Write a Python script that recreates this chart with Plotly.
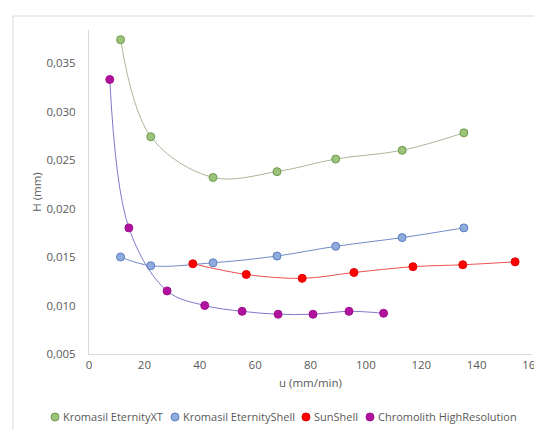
import plotly.graph_objects as go

# Kromasil EternityXT
xt_u = [11.4, 22.3, 44.8, 67.9, 89.1, 113.1, 135.4]
xt_h = [0.0374, 0.0274, 0.0232, 0.0238, 0.0251, 0.0260, 0.0278]
# Kromasil EternityShell
es_u = [11.4, 22.3, 44.8, 67.9, 89.1, 113.1, 135.4]
es_h = [0.0150, 0.0141, 0.0144, 0.0151, 0.0161, 0.0170, 0.0180]
# SunShell
ss_u = [37.5, 56.8, 77.0, 95.7, 117.0, 135.0, 153.9]
ss_h = [0.0143, 0.0132, 0.0128, 0.0134, 0.0140, 0.0142, 0.0145]
# Chromolith HighResolution
ch_u = [7.5, 14.4, 28.2, 41.8, 55.3, 68.3, 80.9, 93.9, 106.4]
ch_h = [0.0333, 0.0180, 0.0115, 0.0100, 0.0094, 0.0091, 0.0091, 0.0094, 0.0092]

names = ["Kromasil EternityXT", "Kromasil EternityShell", "SunShell", "Chromolith HighResolution"]
y_ticks = [0.005, 0.010, 0.015, 0.020, 0.025, 0.030, 0.035]
x_ticks = [0, 20, 40, 60, 80, 100, 120, 140, 160]

series = [
    (xt_u, xt_h, "#9BC37A", "#6E9A4E", "#A7B99A"),
    (es_u, es_h, "#8FAADC", "#5B7DBE", "#6F8CC8"),
    (ss_u, ss_h, "#FF0000", "#E00000", "#F05050"),
    (ch_u, ch_h, "#B0129E", "#A0108F", "#7F78C8"),
]

fig = go.Figure()
for name, (u, h, fill, edge, line) in zip(names, series):
    fig.add_trace(go.Scatter(
        x=u, y=h, name=name, mode="lines+markers", showlegend=False,
        line=dict(color=line, width=1, shape="spline", smoothing=1.0),
        marker=dict(size=8, color=fill, line=dict(color=edge, width=1)),
    ))

# legend laid out in a single row below the chart (marker + label)
legend_marker_x = [-0.0767, 0.1941, 0.4898, 0.6343]
legend_y = -0.1944
shapes = [dict(type="rect", xref="paper", yref="paper", x0=-0.1716, x1=1.0316, y0=-0.35, y1=1.0432,
               line=dict(color="#D9D9D9", width=1), fillcolor="rgba(0,0,0,0)", layer="below")]
annotations = []
for name, mx, (u, h, fill, edge, line) in zip(names, legend_marker_x, series):
    shapes.append(dict(type="circle", xref="paper", yref="paper", xsizemode="pixel", ysizemode="pixel",
                       xanchor=mx, yanchor=legend_y, x0=-4, x1=4, y0=-4, y1=4,
                       fillcolor=fill, line=dict(color=edge, width=1)))
    annotations.append(dict(text=name, xref="paper", yref="paper", x=mx + 0.0135, y=legend_y,
                            xanchor="left", yanchor="middle", showarrow=False,
                            font=dict(family="Open Sans, sans-serif", size=11, color="#595959")))

font = dict(family="Open Sans, sans-serif", size=12, color="#595959")
fig.update_layout(
    width=542, height=430,
    margin=dict(l=81, r=18, t=22, b=84, autoexpand=False),
    paper_bgcolor="white", plot_bgcolor="white",
    separators=",.",
    font=font,
    showlegend=False,
    xaxis=dict(range=[0, 160], tickvals=x_ticks, showgrid=False, zeroline=False, automargin=False,
               showline=True, linecolor="#D9D9D9", linewidth=1, ticks="",
               tickfont=dict(size=11.5),
               title=dict(text="u (mm/min)", font=dict(size=11.5, color="#595959"), standoff=8)),
    yaxis=dict(range=[0.005, 0.0384], tickvals=y_ticks, tickformat=".3f", showgrid=False,
               zeroline=False, showline=True, linecolor="#D9D9D9", linewidth=1, ticks="",
               automargin=False, ticklabelstandoff=10, tickfont=dict(size=11.5),
               title=dict(text="H (mm)", font=dict(size=11.5, color="#595959"), standoff=2)),
    shapes=shapes,
    annotations=annotations,
)

fig.write_html("out.html")
